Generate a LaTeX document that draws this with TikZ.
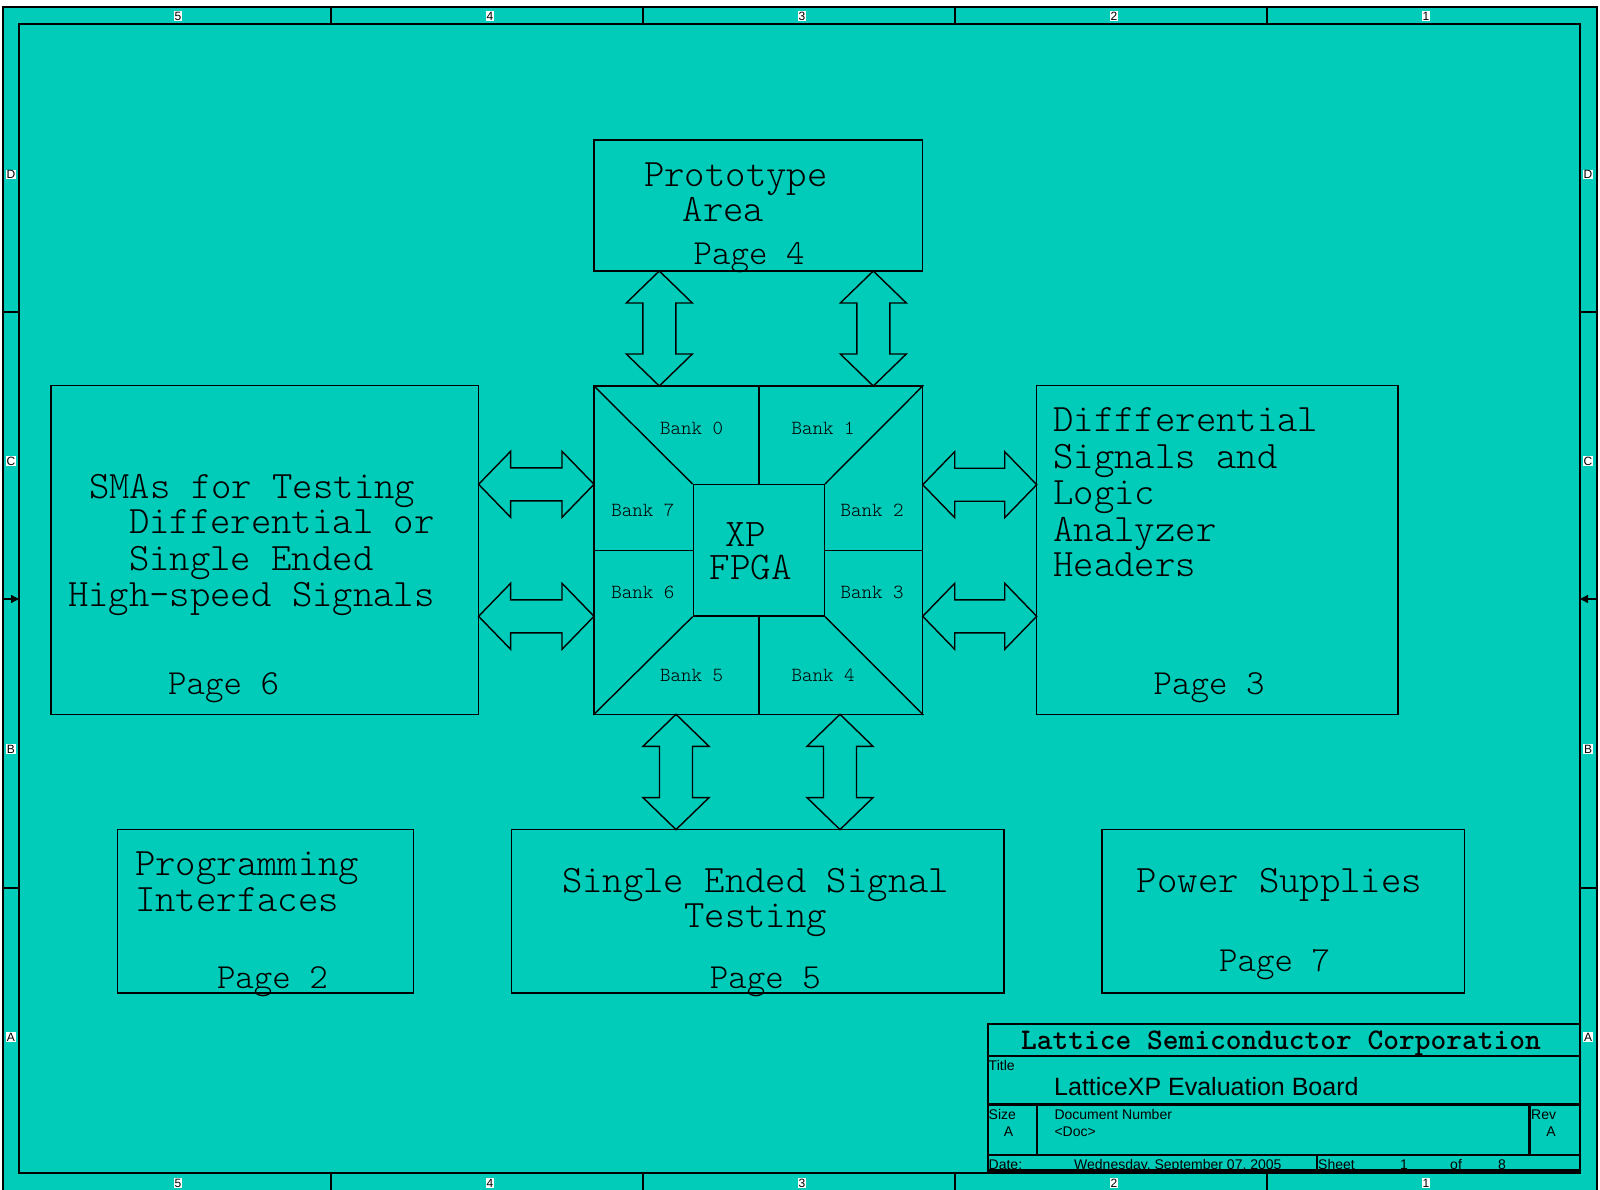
\documentclass[tikz,border=0pt]{standalone}
\usepackage{fontspec}
\setmonofont{lmmonolt10-regular.otf}[BoldFont=lmmonolt10-bold.otf]
\newfontfamily\arialf{Liberation Sans}
\usetikzlibrary{calc,arrows.meta}
\definecolor{teal1}{RGB}{0,204,185}
\tikzset{
  box/.style={draw=black, line width=1.4pt, inner sep=0pt},
  mono/.style={font=\ttfamily\fontsize{38.8}{44}\selectfont, inner sep=0pt, anchor=base west},
  monoc/.style={font=\ttfamily\fontsize{38.8}{44}\selectfont, inner sep=0pt, anchor=base},
  pagef/.style={font=\ttfamily\fontsize{35.2}{40}\selectfont, inner sep=0pt, anchor=base west},
  bank/.style={font=\ttfamily\fontsize{20}{24}\selectfont, inner sep=0pt},
  core/.style={font=\ttfamily\fontsize{39.1}{33.3}\selectfont, inner sep=0pt, align=center},
  zl/.style={font=\arialf\fontsize{12}{12}\selectfont, fill=white, inner sep=0.8pt},
  tb/.style={font=\arialf\fontsize{14}{14}\selectfont, inner sep=0pt, anchor=base west},
  tbc/.style={font=\arialf\fontsize{14}{14}\selectfont, inner sep=0pt, anchor=base},
  barrow/.style={draw=black, line width=1.4pt},
  frame/.style={draw=black, line width=1.7pt},
  tline/.style={draw=black, line width=2.2pt},
}
\newcommand\varr[3]{%
  \draw[barrow] (#1,#2) -- ({#1+33},{#2+32}) -- ({#1+16.5},{#2+32}) -- ({#1+16.5},{#3-32})
   -- ({#1+33},{#3-32}) -- (#1,#3) -- ({#1-33},{#3-32}) -- ({#1-16.5},{#3-32})
   -- ({#1-16.5},{#2+32}) -- ({#1-33},{#2+32}) -- cycle;}
\newcommand\harr[3]{%
  \draw[barrow] (#2,#1) -- ({#2+32},{#1-33}) -- ({#2+32},{#1-16.5}) -- ({#3-32},{#1-16.5})
   -- ({#3-32},{#1-33}) -- (#3,#1) -- ({#3-32},{#1+33}) -- ({#3-32},{#1+16.5})
   -- ({#2+32},{#1+16.5}) -- ({#2+32},{#1+33}) -- cycle;}
\begin{document}
\begin{tikzpicture}[x=1pt,y=-1pt]
\useasboundingbox (0,0) rectangle (1600,1190);
\clip (0,0) rectangle (1600,1190);
\fill[white] (0,0) rectangle (1600,1190);
% outer frame
\draw[frame, fill=teal1] (3,7) rectangle (1597,1200);
\draw[frame] (19,24) rectangle (1580,1173);
\foreach \x in {331,643,955,1267} {
  \draw[frame] (\x,7) -- (\x,24);
  \draw[frame] (\x,1173) -- (\x,1200);
}
\foreach \y in {312,888} {
  \draw[frame] (3,\y) -- (19,\y);
  \draw[frame] (1580,\y) -- (1597,\y);
}
\draw[line width=1.4pt, -{Triangle[length=8pt,width=8pt]}] (3,599) -- (19,599);
\draw[line width=1.4pt, -{Triangle[length=8pt,width=8pt]}] (1597,599) -- (1580,599);
\foreach \x/\t [count=\i] in {178/5,490/4,802/3,1114/2,1426/1} {
  \node[zl] (zt\i) at (\x,16) {\t};
  \node[zl] (zb\i) at (\x,1183) {\t};
}
\foreach \y/\t [count=\i] in {174.5/D,461/C,749/B,1037/A} {
  \node[zl] (zl\i) at (11,\y) {\t};
  \node[zl] (zr\i) at (1588,\y) {\t};
}

% boxes
\node[box, minimum width=328.5, minimum height=131] (proto) at (758.3,205.5) {};
\node[box, minimum width=427.6, minimum height=328.6] (sma) at (264.8,550) {};
\node[box, minimum width=361.3, minimum height=328.6] (diff) at (1217.4,550) {};
\node[box, minimum width=296, minimum height=163.2] (prog) at (265.3,911.2) {};
\node[box, minimum width=492.8, minimum height=163.2] (single) at (757.6,911.2) {};
\node[box, minimum width=362.3, minimum height=163.2] (power) at (1283.2,911.2) {};

% FPGA
\node[box, minimum width=328.7, minimum height=328.3] (fpga) at (758.35,550.15) {};
\node[box, minimum width=131, minimum height=131.3] (core) at (758.8,550.35) {};
\draw[barrow] (fpga.north west) -- (core.north west);
\draw[barrow] (fpga.north east) -- (core.north east);
\draw[barrow] (fpga.south west) -- (core.south west);
\draw[barrow] (fpga.south east) -- (core.south east);
\draw[barrow] (core.north) -- (core.north |- fpga.north);
\draw[barrow] (core.south) -- (core.south |- fpga.south);
\draw[barrow] (core.west) -- (core.west -| fpga.west);
\draw[barrow] (core.east) -- (core.east -| fpga.east);
\node[bank] (b0) at (691.5,428.3) {Bank 0};
\node[bank] (b1) at (823.2,428.3) {Bank 1};
\node[bank] (b7) at (642.8,510) {Bank 7};
\node[bank] (b2) at (872.2,510) {Bank 2};
\node[bank] (b6) at (642.8,592.3) {Bank 6};
\node[bank] (b3) at (872.2,592.3) {Bank 3};
\node[bank] (b5) at (691.5,675) {Bank 5};
\node[bank] (b4) at (823.2,675) {Bank 4};
\node[core] (xpfpga) at (750.7,551.5) {\hspace*{-10pt}XP\\FPGA};

% block arrows
\varr{659.3}{271}{386}
\varr{873.3}{271}{386}
\varr{676}{714.3}{829.6}
\varr{840}{714.3}{829.6}
\harr{484.3}{478.6}{594}
\harr{616.3}{478.6}{594}
\harr{484.7}{922.7}{1036.7}
\harr{616.3}{922.7}{1036.7}

% texts
\node[mono] (p1) at (644,186.5) {Prototype};
\node[mono] (p2) at (682.5,222) {Area};
\node[pagef] (p3) at (693.5,265) {Page 4};

\node[mono] (s1) at (89,498.2) {SMAs for Testing};
\node[mono] (s2) at (128.8,533.9) {Differential or};
\node[mono] (s3) at (128.8,570.5) {Single Ended};
\node[mono] (s4) at (67.8,606.5) {High-speed Signals};
\node[pagef] (s5) at (168,694) {Page 6};

\node[mono] (d1) at (1053.2,431.9) {Diffferential};
\node[mono] (d2) at (1053.2,468.5) {Signals and};
\node[mono] (d3) at (1053.2,504.3) {Logic};
\node[mono] (d4) at (1053.2,541.1) {Analyzer};
\node[mono] (d5) at (1053.2,576.8) {Headers};
\node[pagef] (d6) at (1153.5,694) {Page 3};

\node[mono] (g1) at (135,875.8) {Programming};
\node[mono] (g2) at (135,911.5) {Interfaces};
\node[pagef] (g3) at (216.8,988.5) {Page 2};

\node[monoc] (e1) at (755.6,892.1) {Single Ended Signal};
\node[monoc] (e2) at (755.6,927.8) {Testing};
\node[pagef] (e3) at (709.7,988.5) {Page 5};

\node[monoc] (w1) at (1279.5,892.1) {Power Supplies};
\node[pagef] (w2) at (1219,971.2) {Page 7};

% title block
\draw[tline] (987.8,1024.3) rectangle (1580,1170.5);
\draw[tline] (987.8,1055.7) -- (1580,1055.7);
\draw[tline] (987.8,1104.5) -- (1580,1104.5);
\draw[tline] (987.8,1154.7) -- (1580,1154.7);
\draw[tline] (1037.2,1104.5) -- (1037.2,1154.7);
\draw[tline] (1529.5,1104.5) -- (1529.5,1154.7);
\draw[tline] (1316.6,1154.7) -- (1316.6,1170.5);
\node[font=\ttfamily\bfseries\fontsize{30}{34}\selectfont, inner sep=0pt, anchor=base] (corp) at (1281,1049) {Lattice Semiconductor Corporation};
\node[tb] (tt) at (988.5,1070) {Title};
\node[font=\arialf\fontsize{25}{28}\selectfont, inner sep=0pt, anchor=base west] (tname) at (1054,1095.7) {LatticeXP Evaluation Board};
\node[tb] (sz) at (988.5,1119.3) {Size};
\node[tbc] (sza) at (1008.5,1136) {A};
\node[tb] (dn) at (1054.3,1119.3) {Document Number};
\node[tb] (dc) at (1054.3,1136) {<Doc>};
\node[tb] (rv) at (1531,1119.3) {Rev};
\node[tbc] (rva) at (1551,1136) {A};
\node[tb] (dt) at (988.5,1169) {Date:};
\node[tb] (dtv) at (1074,1169) {Wednesday, September 07, 2005};
\node[tb] (sh) at (1318,1169) {Sheet};
\node[tb] (sh1) at (1400,1169) {1};
\node[tb] (shof) at (1450,1169) {of};
\node[tb] (sh8) at (1498,1169) {8};
\end{tikzpicture}
\end{document}
